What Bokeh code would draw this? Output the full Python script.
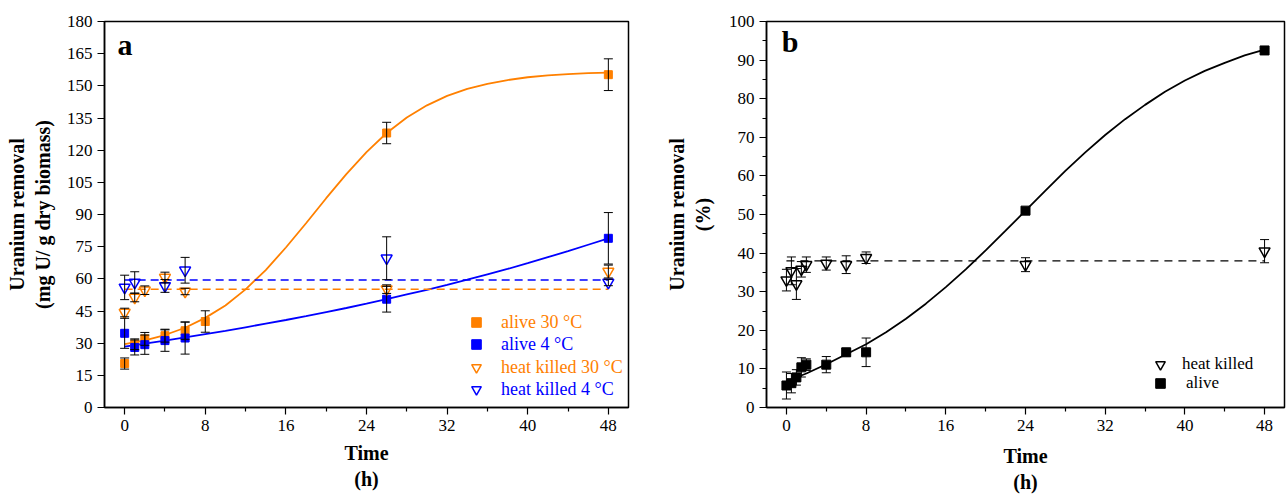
from bokeh.plotting import figure
from bokeh.models import (ColumnDataSource, Whisker, TeeHead, FixedTicker, Range1d,
                          Legend, LegendItem, Label)
from bokeh.layouts import row
from bokeh.embed import file_html
from bokeh.resources import INLINE

# ---------------- data: panel a ----------------
t_alive30 = [0, 1, 2, 4, 6, 8, 26, 48]
alive30 = [20.5, 29.5, 32.0, 33.5, 35.8, 40.1, 128.0, 155.2]
alive30_err = [2.6, 2.5, 3.0, 3.0, 4.0, 5.0, 5.0, 7.4]

t_alive4 = [0, 1, 2, 4, 6, 26, 48]
alive4 = [34.6, 28.0, 29.3, 31.2, 32.4, 50.5, 78.9]
alive4_err = [7.0, 3.5, 4.5, 5.0, 7.5, 6.0, 12.0]

t_hk30 = [0, 1, 2, 4, 6, 26, 48]
hk30 = [44.3, 51.3, 54.7, 60.6, 54.1, 55.2, 63.4]
hk30_err = [2.0, 2.0, 2.0, 2.5, 1.5, 2.0, 3.0]

t_hk4 = [0, 1, 4, 6, 26, 48]
hk4 = [56.0, 58.3, 56.7, 64.0, 69.6, 58.3]
hk4_err = [5.7, 5.0, 3.0, 6.0, 10.0, 1.5]

hk30_mean = 55.2
hk4_mean = 59.4

t_fit = [0, 2, 4, 6, 8, 10, 12, 14, 16, 18, 20, 22, 24, 26, 28, 30, 32, 34, 36, 38, 40, 42, 44, 46, 48]
fit_alive30 = [29.5, 31.3, 33.8, 37.2, 41.8, 47.6, 55.1, 64.1, 74.6, 85.9, 97.6, 108.8, 119.1,
               128.0, 135.2, 140.9, 145.3, 148.6, 150.9, 152.7, 154.0, 154.9, 155.5, 155.9, 156.2]
fit_alive4 = [28.4, 29.8, 31.2, 32.7, 34.2, 35.7, 37.4, 39.1, 40.8, 42.6, 44.5, 46.4, 48.4,
              50.5, 52.7, 54.9, 57.2, 59.6, 62.1, 64.6, 67.3, 70.1, 72.9, 75.9, 78.9]

# ---------------- data: panel b ----------------
t_b = [0, 0.5, 1, 1.5, 2, 4, 6, 8, 24, 48]
alive_b = [5.7, 6.3, 7.8, 10.4, 11.1, 11.1, 14.3, 14.3, 51.0, 92.5]
alive_b_err = [3.5, 2.5, 2.0, 2.5, 1.5, 2.1, 1.0, 3.7, 0.8, 0.5]
hk_b = [33.0, 35.4, 32.0, 35.8, 37.0, 37.3, 37.0, 38.8, 37.0, 40.5]
hk_b_err = [2.8, 3.6, 4.0, 2.0, 2.0, 1.7, 2.3, 1.5, 1.8, 3.0]
hk_b_mean = 38.0
fit_b = [6.8, 8.8, 11.2, 13.8, 16.4, 19.5, 23.0, 26.9, 31.2, 35.8, 40.7, 45.8, 51.0,
         56.2, 61.3, 66.1, 70.6, 74.7, 78.4, 81.8, 84.7, 87.2, 89.3, 91.2, 92.7]

x_ticks = [0, 8, 16, 24, 32, 40, 48]
x_minor = [4, 12, 20, 28, 36, 44]
ya_ticks = [0, 15, 30, 45, 60, 75, 90, 105, 120, 135, 150, 165, 180]
yb_ticks = [0, 10, 20, 30, 40, 50, 60, 70, 80, 90, 100]
yb_minor = [5, 15, 25, 35, 45, 55, 65, 75, 85, 95]

ORANGE = "#FF8000"
BLUE = "#0000FF"
FONT = "Liberation Serif"


def src(t, y, e):
    return ColumnDataSource(dict(t=t, y=y, lo=[a - b for a, b in zip(y, e)],
                                 hi=[a + b for a, b in zip(y, e)]))


def whisk(p, s):
    w = Whisker(source=s, base="t", upper="hi", lower="lo", dimension="height",
                line_color="black", line_width=1,
                upper_head=TeeHead(size=9, line_color="black", line_width=1),
                lower_head=TeeHead(size=9, line_color="black", line_width=1),
                level="overlay")
    p.add_layout(w)


def style(p, yticks, yminor, ylabel, y_standoff, x_standoff):
    p.xaxis.ticker = FixedTicker(ticks=x_ticks, minor_ticks=x_minor)
    p.yaxis.ticker = FixedTicker(ticks=yticks, minor_ticks=yminor)
    for ax in (p.xaxis, p.yaxis):
        ax.axis_line_width = 1.5
        ax.axis_line_color = "black"
        ax.major_tick_line_color = "black"
        ax.minor_tick_line_color = "black"
        ax.major_tick_line_width = 1.2
        ax.minor_tick_line_width = 1.2
        ax.major_tick_out = 7
        ax.major_tick_in = 0
        ax.minor_tick_out = 4
        ax.minor_tick_in = 0
        ax.major_label_text_font = FONT
        ax.major_label_text_font_size = "17px"
        ax.major_label_text_color = "black"
        ax.axis_label_text_font = FONT
        ax.axis_label_text_font_style = "bold"
        ax.axis_label_text_font_size = "20px"
        ax.axis_label_text_color = "black"
    p.xaxis.axis_label = "Time\n(h)"
    p.yaxis.axis_label = ylabel
    p.yaxis.axis_label_standoff = y_standoff
    p.xaxis.axis_label_standoff = x_standoff
    p.xgrid.visible = False
    p.ygrid.visible = False
    p.outline_line_color = "black"
    p.outline_line_width = 1.5
    p.background_fill_color = "white"
    p.border_fill_color = "white"


# ---------------- panel a ----------------
pa = figure(width=660, height=495, output_backend="svg", toolbar_location=None,
            x_range=Range1d(-2, 50), y_range=Range1d(0, 180),
            min_border_left=104, min_border_right=32, min_border_top=21, min_border_bottom=88)
style(pa, ya_ticks, [], "Uranium removal\n(mg U/ g dry biomass)", 10, 8)

pa.line(t_fit, fit_alive30, line_color=ORANGE, line_width=1.8)
pa.line(t_fit, fit_alive4, line_color=BLUE, line_width=1.8)
pa.line([t_fit[0], t_fit[-1]], [hk4_mean, hk4_mean], line_color=BLUE, line_width=1.5, line_dash="8 5")
pa.line([t_fit[0], t_fit[-1]], [hk30_mean, hk30_mean], line_color=ORANGE, line_width=1.5, line_dash="8 5")

s_a30 = src(t_alive30, alive30, alive30_err)
s_a4 = src(t_alive4, alive4, alive4_err)
s_h30 = src(t_hk30, hk30, hk30_err)
s_h4 = src(t_hk4, hk4, hk4_err)

r_a30 = pa.scatter("t", "y", source=s_a30, marker="square", size=8, fill_color=ORANGE, line_color=ORANGE)
r_a4 = pa.scatter("t", "y", source=s_a4, marker="square", size=8, fill_color=BLUE, line_color=BLUE)
r_h30 = pa.scatter("t", "y", source=s_h30, marker="inverted_triangle", size=11, fill_color=None,
                   line_color=ORANGE, line_width=1.5)
r_h4 = pa.scatter("t", "y", source=s_h4, marker="inverted_triangle", size=11, fill_color=None,
                  line_color=BLUE, line_width=1.5)
for s in (s_a30, s_a4, s_h30, s_h4):
    whisk(pa, s)

legend_rows_a = [("alive 30 °C", r_a30, ORANGE, 73), ("alive 4 °C", r_a4, BLUE, 51),
                 ("heat killed 30 °C", r_h30, ORANGE, 28), ("heat killed 4 °C", r_h4, BLUE, 6)]
for lab, r, col, yoff in legend_rows_a:
    lg = Legend(items=[LegendItem(label=lab, renderers=[r])], location=(360, yoff),
                glyph_width=24, glyph_height=24, label_height=24, label_standoff=13,
                padding=0, margin=0, border_line_color=None, background_fill_alpha=0,
                label_text_font=FONT, label_text_font_size="18px", label_text_color=col)
    pa.add_layout(lg, "center")

pa.add_layout(Label(x=-0.72, y=161.7, text="a", text_font=FONT, text_font_style="bold",
                    text_font_size="30px", text_color="black"))

# ---------------- panel b ----------------
pb = figure(width=628, height=495, output_backend="svg", toolbar_location=None,
            x_range=Range1d(-2, 50), y_range=Range1d(0, 100),
            min_border_left=106, min_border_right=4, min_border_top=21, min_border_bottom=88)
style(pb, yb_ticks, yb_minor, "Uranium removal\n(%)", 12, 11)

pb.line(t_fit, fit_b, line_color="black", line_width=1.8)
pb.line([t_fit[0], t_fit[-1]], [hk_b_mean, hk_b_mean], line_color="black", line_width=1.3, line_dash="8 6")
s_ba = src(t_b, alive_b, alive_b_err)
s_bh = src(t_b, hk_b, hk_b_err)
r_bh = pb.scatter("t", "y", source=s_bh, marker="inverted_triangle", size=11, fill_color=None,
                  line_color="black", line_width=1.5)
r_ba = pb.scatter("t", "y", source=s_ba, marker="square", size=9, fill_color="black", line_color="black")
whisk(pb, s_ba)
whisk(pb, s_bh)

for lab, r, yoff, stand in [("heat killed", r_bh, 31, 10), ("alive", r_ba, 12, 14)]:
    lg = Legend(items=[LegendItem(label=lab, renderers=[r])], location=(382, yoff),
                glyph_width=24, glyph_height=24, label_height=24, label_standoff=stand,
                padding=0, margin=0, border_line_color=None, background_fill_alpha=0,
                label_text_font=FONT, label_text_font_size="17px", label_text_color="black")
    pb.add_layout(lg, "center")

pb.add_layout(Label(x=-0.47, y=90.5, text="b", text_font=FONT, text_font_style="bold",
                    text_font_size="30px", text_color="black"))

layout = row(pa, pb)
open("out.html", "w").write(file_html(layout, INLINE))
